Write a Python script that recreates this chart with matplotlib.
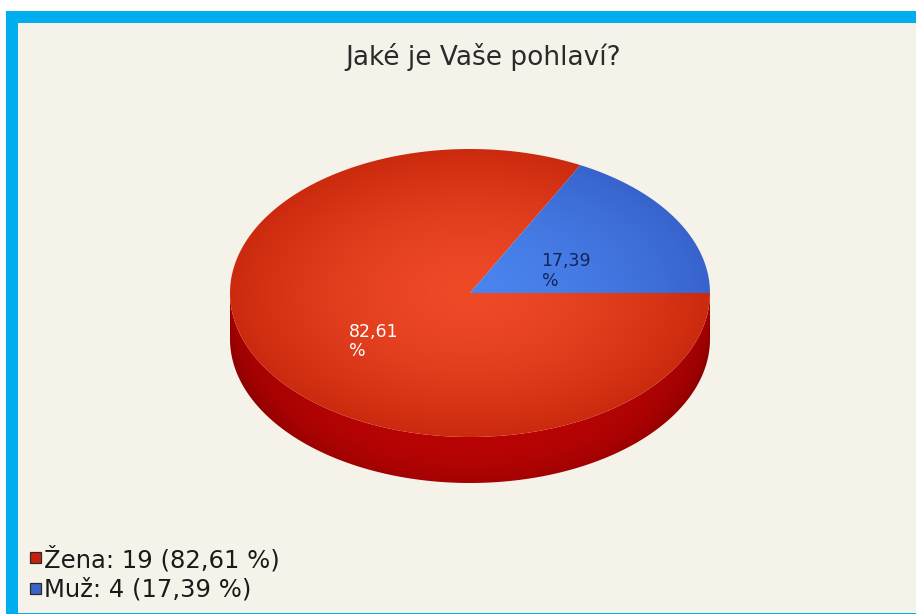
import numpy as np
import matplotlib
matplotlib.use("Agg")
import matplotlib.pyplot as plt
from matplotlib.patches import Polygon, Rectangle

# ---- data ----
title = "Jaké je Vaše pohlaví?"
categories = ["Žena", "Muž"]
counts = [19, 4]
top_center_colors = ["#ee4a28", "#4a84ee"]
top_edge_colors = ["#cc2a0e", "#3863cc"]
label_colors = ["white", "#14245a"]
legend_colors = ["#c8200c", "#3a64c8"]

plt.rcParams["font.family"] = ["DejaVu Sans"]

W, H = 916, 614
fig = plt.figure(figsize=(W / 100, H / 100), dpi=100)
fig.patch.set_facecolor("white")
ax = fig.add_axes([0, 0, 1, 1])
ax.axis("off")

# background and frame
ax.add_patch(Rectangle((6, 11), W - 6, H - 11, facecolor="#00aeef", edgecolor="none", zorder=0))
ax.add_patch(Rectangle((18, 23), W - 18, H - 23 - 1.5, facecolor="#f5f3e9", edgecolor="none", zorder=0.5))

# pie geometry (pixels)
cx, cy, rx, ry, depth = 470.0, 293.0, 240.0, 144.0, 46.0

total = float(sum(counts))
fracs = [c / total for c in counts]

def ell(t):
    return cx + rx * np.cos(t), cy - ry * np.sin(t)

# side (extrusion) - visible lower half
ts = np.linspace(np.pi, 2 * np.pi, 300)
xt, yt = ell(ts)
side_pts = np.column_stack([np.r_[xt, xt[::-1]], np.r_[yt, yt[::-1] + depth]])
side_poly = Polygon(side_pts, closed=True, facecolor="none", edgecolor="none")
ax.add_patch(side_poly)
sx = np.linspace(cx - rx, cx + rx, 300)
sy = np.linspace(cy, cy + ry + depth + 2, 200)
SX, SY = np.meshgrid(sx, sy)
u = np.abs((SX - cx) / rx)
rim = cy + ry * np.sqrt(np.clip(1 - ((SX - cx) / rx) ** 2, 0, 1)) + depth
v = np.clip((rim - SY) / depth, 0, 1)
side_c0 = np.array(matplotlib.colors.to_rgb("#b80404"))
side_c1 = np.array(matplotlib.colors.to_rgb("#900000"))
sf = np.clip(0.6 * u ** 3 + 0.5 * (1 - v) ** 2, 0, 1)
side_img = side_c0[None, None, :] * (1 - sf[..., None]) + side_c1[None, None, :] * sf[..., None]
im = ax.imshow(side_img, extent=(sx[0], sx[-1], sy[0], sy[-1]), origin="lower",
               aspect="auto", zorder=1, interpolation="bilinear")
im.set_clip_path(side_poly)

# top face wedges, clockwise from east (JFreeChart style)
nx, ny = 500, 320
gxs = np.linspace(cx - rx - 2, cx + rx + 2, nx)
gys = np.linspace(cy - ry - 2, cy + ry + 2, ny)
GX, GY = np.meshgrid(gxs, gys)
R = np.sqrt(((GX - cx) / rx) ** 2 + ((GY - cy) / ry) ** 2)
shade = np.clip(R, 0, 1) ** 1.6

start = 0.0
mids = []
for i, f in enumerate(fracs):
    a0 = start
    a1 = start - f * 2 * np.pi
    tt = np.linspace(a0, a1, 300)
    px, py = ell(tt)
    pts = np.column_stack([np.r_[cx, px], np.r_[cy, py]])
    poly = Polygon(pts, closed=True, facecolor="none", edgecolor="none")
    ax.add_patch(poly)
    c0 = np.array(matplotlib.colors.to_rgb(top_center_colors[i]))
    c1 = np.array(matplotlib.colors.to_rgb(top_edge_colors[i]))
    img = c0[None, None, :] * (1 - shade[..., None]) + c1[None, None, :] * shade[..., None]
    im = ax.imshow(img, extent=(gxs[0], gxs[-1], gys[0], gys[-1]), origin="lower",
                   aspect="auto", zorder=2, interpolation="bilinear")
    im.set_clip_path(poly)
    mids.append((a0 + a1) / 2)
    start = a1

# slice labels
lab_cy = cy + depth * 0.35
for i, f in enumerate(fracs):
    m = mids[i]
    lx = cx + 0.47 * rx * np.cos(m)
    ly = lab_cy - 0.47 * ry * np.sin(m) - 3
    txt = f"{f * 100:.2f}".replace(".", ",") + "\n%"
    ax.text(lx, ly, txt, ha="center", va="center", multialignment="left",
            color=label_colors[i], fontsize=12.5, zorder=5, linespacing=1.1)

# title
ax.text(cx + 13, 57, title, ha="center", va="center", fontsize=19, color="#2a2a2a", zorder=5)

# legend
leg_y = [558, 589]
for i, (cat, c) in enumerate(zip(categories, counts)):
    ax.add_patch(Rectangle((29.5, leg_y[i] - 6), 11, 11, facecolor=legend_colors[i],
                           edgecolor="#2a2a2a", lw=0.9, zorder=5))
    pct = f"{c / total * 100:.2f}".replace(".", ",")
    ax.text(44, leg_y[i] + 1, f"{cat}: {c} ({pct} %)", ha="left", va="center",
            fontsize=17.5, color="#1a1a1a", zorder=5)

ax.set_xlim(0, W)
ax.set_ylim(H, 0)
fig.savefig("out.png", dpi=100, facecolor="white")
